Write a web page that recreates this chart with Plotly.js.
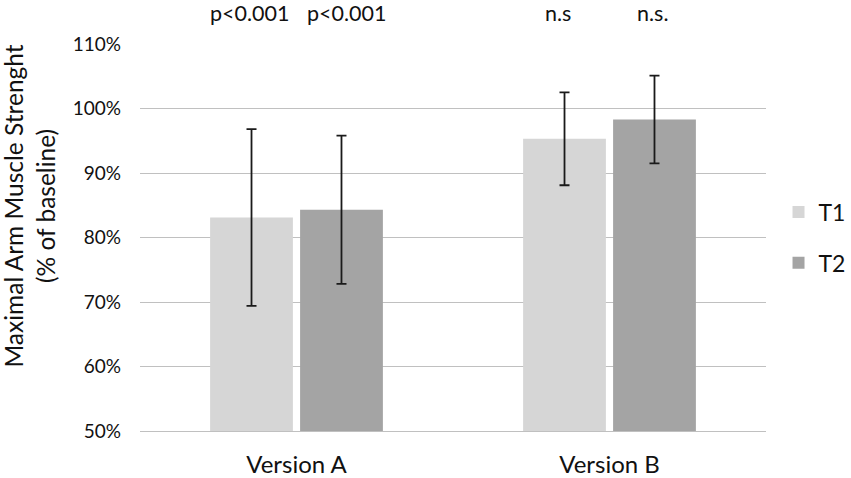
<!DOCTYPE html>
<html>
<head>
<meta charset="utf-8">
<script src="https://cdn.plot.ly/plotly-3.0.1.min.js"></script>
<style>
  html, body { margin: 0; padding: 0; background: #fff; }
  #chart { width: 851px; height: 478px; }
</style>
</head>
<body>
<div id="chart"></div>
<script>
// values (% of baseline)
const versions = ["Version A", "Version B"];
const t1Values = [83.1, 95.3];
const t1Errors = [13.7, 7.2];
const t2Values = [84.3, 98.3];
const t2Errors = [11.5, 6.8];
const pLabelsT1 = ["p<0.001", "n.s"];
const pLabelsT2 = ["p<0.001", "n.s."];
const yTicks = [50, 60, 70, 80, 90, 100, 110];

const FONT = "Lato, 'Open Sans', sans-serif";

function errBar(arr) {
  return { type: "data", array: arr, visible: true, color: "#1a1a1a", thickness: 1.8, width: 5 };
}

const traces = [
  {
    type: "bar", name: "T1", x: versions, y: t1Values,
    marker: { color: "#d6d6d6" },
    error_y: errBar(t1Errors),
    legendgroup: "g1"
  },
  {
    type: "bar", name: "T2", x: versions, y: t2Values,
    marker: { color: "#a4a4a4" },
    error_y: errBar(t2Errors),
    legendgroup: "g2"
  }
];

// p-value labels over each bar (small nudges so they sit like the original)
const shiftT1 = [-47, -52];
const shiftT2 = [50, 43];
const annotations = [];
versions.forEach((v, i) => {
  annotations.push({ x: v, xshift: shiftT1[i], y: 1, yref: "paper", yanchor: "middle", yshift: 31,
    text: pLabelsT1[i], showarrow: false, font: { size: 21.5, color: "#111" } });
  annotations.push({ x: v, xshift: shiftT2[i], y: 1, yref: "paper", yanchor: "middle", yshift: 31,
    text: pLabelsT2[i], showarrow: false, font: { size: 21.5, color: "#111" } });
});

// y title as an annotation so it can sit a bit above the plot centre like the original
annotations.push({
  xref: "paper", yref: "paper", x: 0, xshift: -110, y: 0.58,
  xanchor: "center", yanchor: "middle",
  textangle: -90, showarrow: false,
  text: "Maximal Arm Muscle Strenght<br>(% of baseline)",
  font: { size: 24.5, color: "#111" }
});

const layout = {
  width: 851, height: 478,
  margin: { l: 140, r: 85, t: 44, b: 47, autoexpand: false },
  paper_bgcolor: "#fff", plot_bgcolor: "#fff",
  font: { family: FONT, color: "#111" },
  barmode: "group",
  bargap: 0.425,
  bargroupgap: 0.08,
  showlegend: true,
  legend: {
    x: 1.02, xanchor: "left", y: 0.5, yanchor: "middle",
    font: { size: 23 },
    traceorder: "grouped", tracegroupgap: 18,
    itemwidth: 30
  },
  xaxis: {
    type: "category",
    tickfont: { size: 24 },
    showgrid: false, showline: true, linecolor: "#c0c0c0", linewidth: 1,
    ticks: "", ticklabelstandoff: 12
  },
  yaxis: {
    range: [50, 110],
    tickvals: yTicks,
    ticktext: yTicks.map(t => t + "%"),
    tickfont: { size: 19 },
    showgrid: true, gridcolor: "#c0c0c0", gridwidth: 1,
    zeroline: false, showline: false,
    ticks: "", ticklabelstandoff: 18
  },
  annotations: annotations
};

Plotly.newPlot("chart", traces, layout, { displayModeBar: false, staticPlot: true });
</script>
</body>
</html>
